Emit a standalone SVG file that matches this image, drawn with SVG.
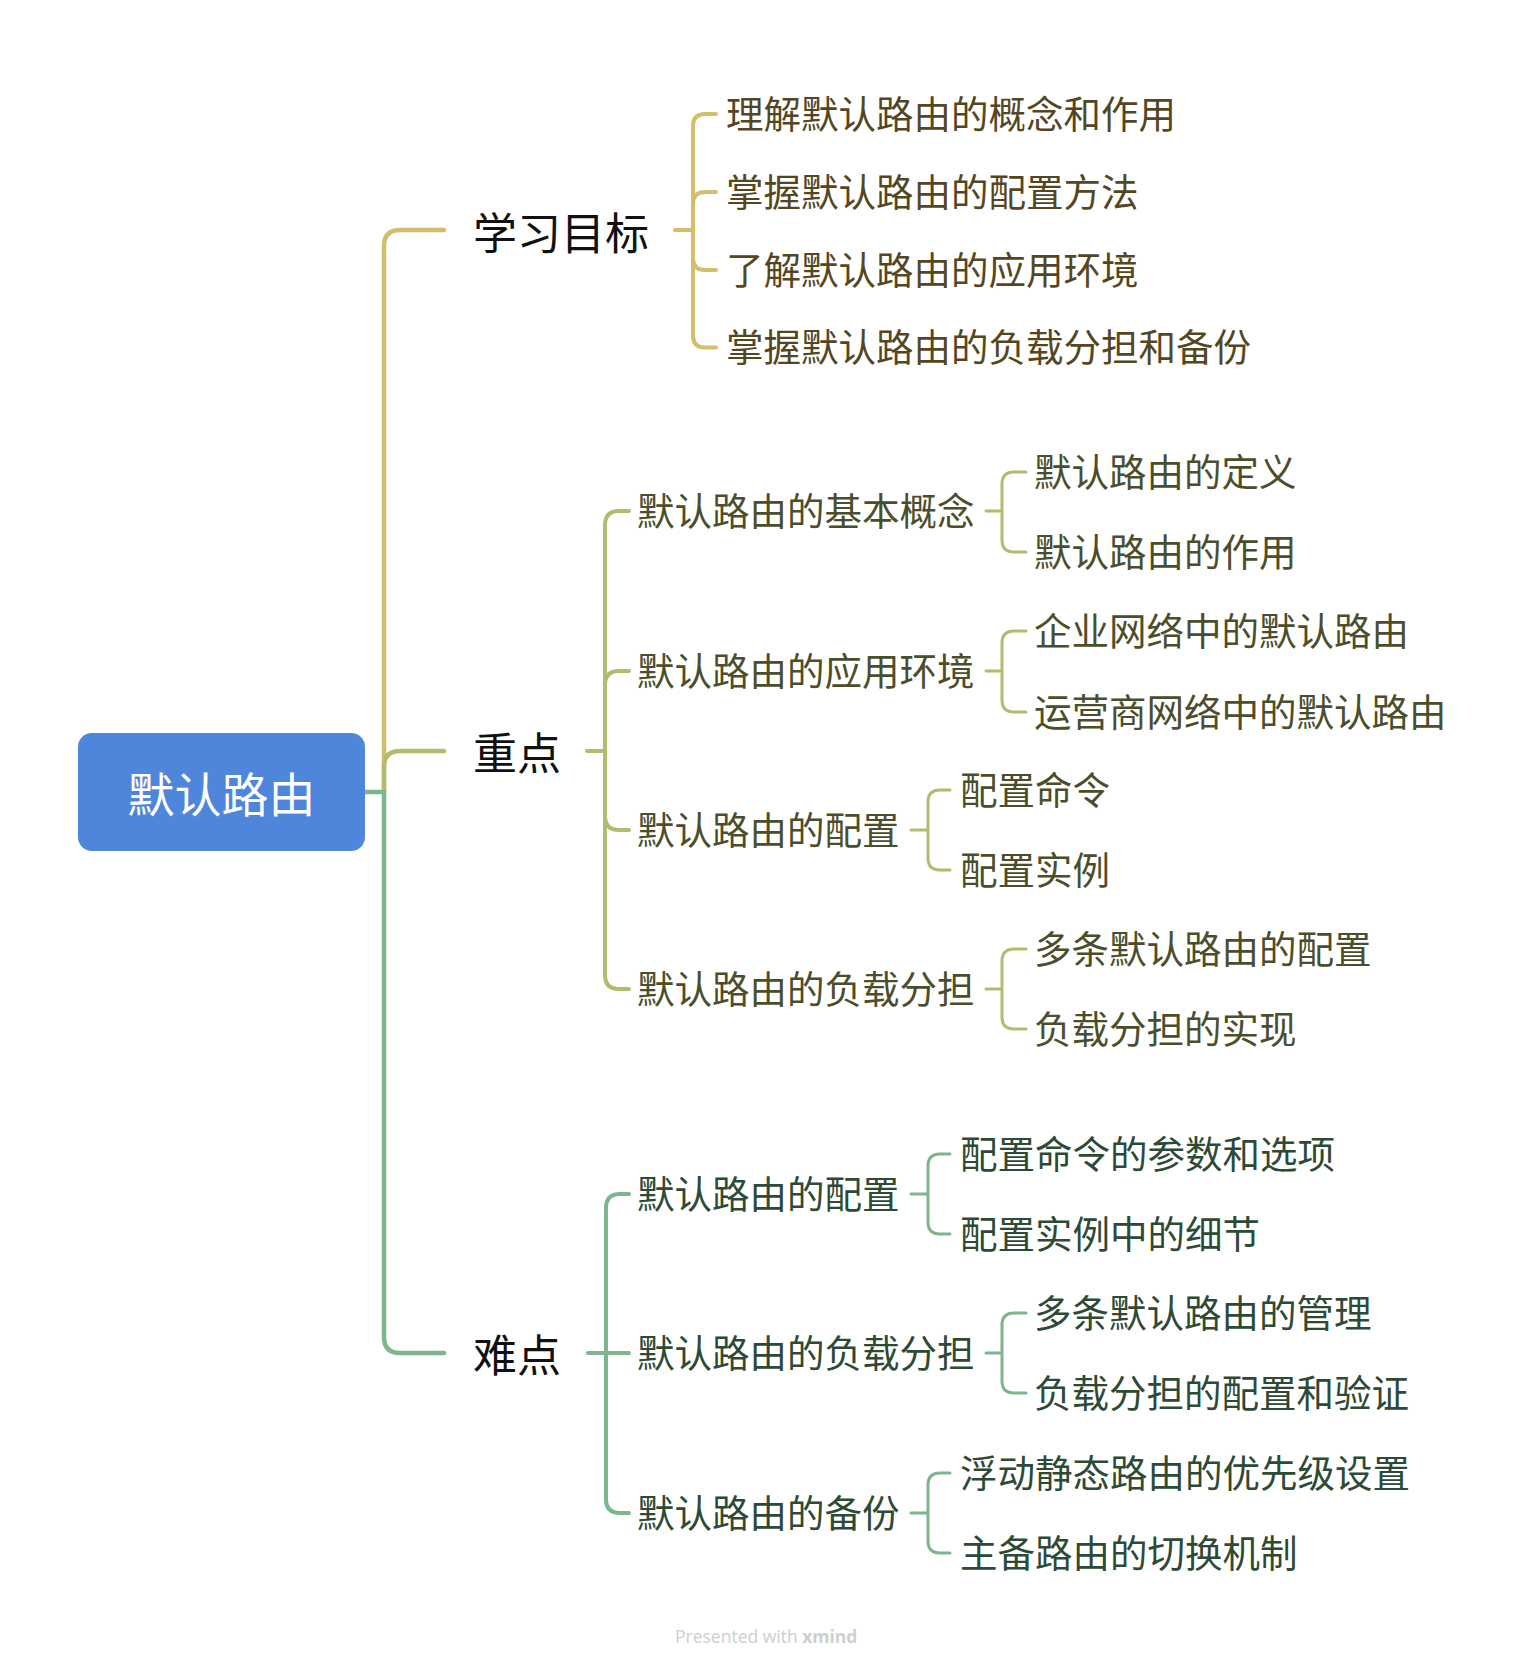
<svg xmlns="http://www.w3.org/2000/svg" width="1534" height="1667" viewBox="0 0 1534 1667">
<style>
text{font-family:"Noto Sans CJK SC","Noto Sans",sans-serif;dominant-baseline:central}
.l1{font-size:44px;fill:#111}
.l2{font-size:37.5px;transform:translateY(-3px)}
.root{font-size:47px;fill:#fff;text-anchor:middle}
.g{fill:#54471F}.o{fill:#4B4E2B}.n{fill:#2D4A35}
path{fill:none;stroke-linecap:round;stroke-linejoin:round}
.sg{stroke:#D4BE6C}.so{stroke:#B3BC6C}.sn{stroke:#7DB58D}
.w1{stroke-width:4.5}.w2{stroke-width:4}.w3{stroke-width:3}
.wm{font-family:"Open Sans","Liberation Sans",sans-serif;font-size:17.5px;fill:#CFCFCF}
</style>
<rect width="1534" height="1667" fill="#fff"/>
<g id="connectors">
<path class="sg w1" d="M384,792 V246 Q384,230 400,230 H444"/>
<path class="so w1" d="M384,792 V767 Q384,751 400,751 H444"/>
<path class="sn w1" d="M365,792 H384 M384,792 V1337 Q384,1353 400,1353 H444"/>
<path class="sg w2" d="M675,230 H693 M693,230 V126 Q693,114 705,114 H716 M693,230 V204 Q693,192 705,192 H716 M693,230 V258 Q693,270 705,270 H716 M693,230 V335.5 Q693,347.5 705,347.5 H716"/>
<path class="so w2" d="M587,751 H605 M605,751 V525 Q605,511 619,511 H629 M605,751 V685 Q605,671 619,671 H629 M605,751 V816 Q605,830 619,830 H629 M605,751 V975 Q605,989 619,989 H629"/>
<path class="so w3" d="M986,511 H1002 M1002,511 V484 Q1002,472 1014,472 H1026 M1002,511 V540 Q1002,552 1014,552 H1026"/>
<path class="so w3" d="M986,671 H1002 M1002,671 V643 Q1002,631 1014,631 H1026 M1002,671 V700 Q1002,712 1014,712 H1026"/>
<path class="so w3" d="M911,830 H928 M928,830 V802 Q928,790 940,790 H950 M928,830 V858 Q928,870 940,870 H950"/>
<path class="so w3" d="M986,989 H1002 M1002,989 V961 Q1002,949 1014,949 H1026 M1002,989 V1017 Q1002,1029 1014,1029 H1026"/>
<path class="sn w2" d="M588,1353 H629 M606,1353 V1208 Q606,1194 620,1194 H629 M606,1353 V1499 Q606,1513 620,1513 H629"/>
<path class="sn w3" d="M911,1194 H928 M928,1194 V1166 Q928,1154 940,1154 H950 M928,1194 V1222 Q928,1234 940,1234 H950"/>
<path class="sn w3" d="M986,1353 H1002 M1002,1353 V1325 Q1002,1313 1014,1313 H1026 M1002,1353 V1381 Q1002,1393 1014,1393 H1026"/>
<path class="sn w3" d="M911,1513 H928 M928,1513 V1485 Q928,1473 940,1473 H950 M928,1513 V1541 Q928,1553 940,1553 H950"/>
</g>
<g id="root"><rect x="78" y="733" width="287" height="118" rx="14" fill="#4E86DB"/><text class="root" x="221.5" y="791">默认路由</text></g>
<g id="n-goal"><text class="l1" x="473" y="231">学习目标</text></g>
<g id="n-goal-1"><text class="l2 g" x="726" y="114">理解默认路由的概念和作用</text></g>
<g id="n-goal-2"><text class="l2 g" x="726" y="192">掌握默认路由的配置方法</text></g>
<g id="n-goal-3"><text class="l2 g" x="726" y="270">了解默认路由的应用环境</text></g>
<g id="n-goal-4"><text class="l2 g" x="726" y="347.5">掌握默认路由的负载分担和备份</text></g>
<g id="n-key"><text class="l1" x="473" y="751">重点</text></g>
<g id="n-key-1"><text class="l2 o" x="637" y="511">默认路由的基本概念</text></g>
<g id="n-key-1-1"><text class="l2 o" x="1034" y="472">默认路由的定义</text></g>
<g id="n-key-1-2"><text class="l2 o" x="1034" y="552">默认路由的作用</text></g>
<g id="n-key-2"><text class="l2 o" x="637" y="671">默认路由的应用环境</text></g>
<g id="n-key-2-1"><text class="l2 o" x="1034" y="631">企业网络中的默认路由</text></g>
<g id="n-key-2-2"><text class="l2 o" x="1034" y="712">运营商网络中的默认路由</text></g>
<g id="n-key-3"><text class="l2 o" x="637" y="830">默认路由的配置</text></g>
<g id="n-key-3-1"><text class="l2 o" x="960" y="790">配置命令</text></g>
<g id="n-key-3-2"><text class="l2 o" x="960" y="870">配置实例</text></g>
<g id="n-key-4"><text class="l2 o" x="637" y="989">默认路由的负载分担</text></g>
<g id="n-key-4-1"><text class="l2 o" x="1034" y="949">多条默认路由的配置</text></g>
<g id="n-key-4-2"><text class="l2 o" x="1034" y="1029">负载分担的实现</text></g>
<g id="n-hard"><text class="l1" x="473" y="1353">难点</text></g>
<g id="n-hard-1"><text class="l2 n" x="637" y="1194">默认路由的配置</text></g>
<g id="n-hard-1-1"><text class="l2 n" x="960" y="1154">配置命令的参数和选项</text></g>
<g id="n-hard-1-2"><text class="l2 n" x="960" y="1234">配置实例中的细节</text></g>
<g id="n-hard-2"><text class="l2 n" x="637" y="1353">默认路由的负载分担</text></g>
<g id="n-hard-2-1"><text class="l2 n" x="1034" y="1313">多条默认路由的管理</text></g>
<g id="n-hard-2-2"><text class="l2 n" x="1034" y="1393">负载分担的配置和验证</text></g>
<g id="n-hard-3"><text class="l2 n" x="637" y="1513">默认路由的备份</text></g>
<g id="n-hard-3-1"><text class="l2 n" x="960" y="1473">浮动静态路由的优先级设置</text></g>
<g id="n-hard-3-2"><text class="l2 n" x="960" y="1553">主备路由的切换机制</text></g>
<text class="wm" x="675" y="1636">Presented with <tspan font-weight="bold">xmind</tspan></text>
</svg>
